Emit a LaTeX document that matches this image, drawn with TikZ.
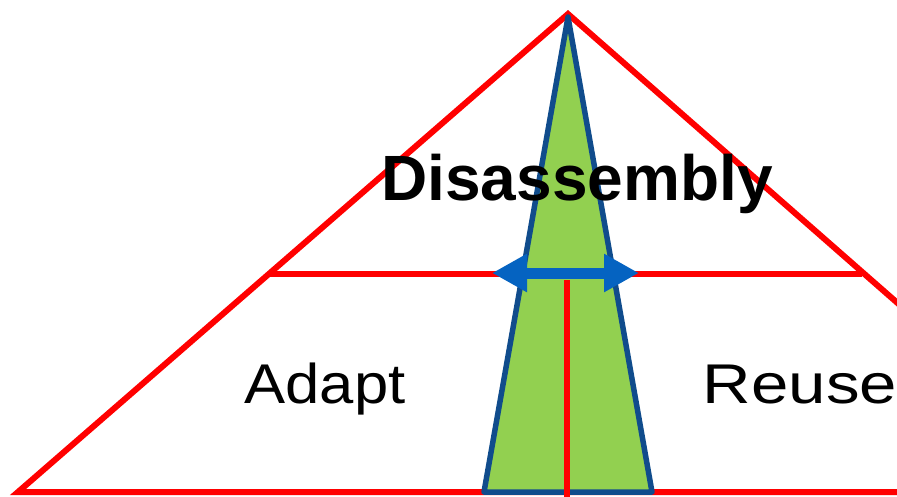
\documentclass[tikz,border=0pt]{standalone}
\usepackage{fontspec}
\setmainfont{Liberation Sans}
\usetikzlibrary{arrows.meta}
\definecolor{redline}{RGB}{255,0,0}
\definecolor{greenfill}{RGB}{146,208,80}
\definecolor{blueedge}{RGB}{16,76,140}
\definecolor{bluearrow}{RGB}{5,99,193}
\tikzset{
  redl/.style={draw=redline,line width=6pt,line join=miter},
  spire/.style={fill=greenfill,draw=blueedge,line width=5.5pt,line join=round},
  dblarrow/.style={draw=bluearrow,line width=11pt,{Triangle[length=35pt,width=36pt]}-{Triangle[length=35pt,width=36pt]}},
  lbl/.style={anchor=base,inner sep=0pt,text=black}
}
\begin{document}
\begin{tikzpicture}[x=1pt,y=-1pt]
\useasboundingbox (0,0) rectangle (897,497);
\clip (0,0) rectangle (897,497);
\fill[white] (0,0) rectangle (897,497);
% red pyramid
\coordinate (apex) at (568,14);
\coordinate (bl) at (18,492);
\coordinate (br) at (1113,492);
\coordinate (ml) at (269,274);
\coordinate (mr) at (862,274);
\draw[redl] (br) -- (bl) -- (apex) -- (br);
\draw[redl] (ml) -- (mr);
% green spire
\coordinate (gapex) at (568,17);
\coordinate (gbl) at (484,492);
\coordinate (gbr) at (652,492);
\draw[spire] (gapex) -- (gbl) -- (gbr) -- cycle;
% red vertical line
\coordinate (vt) at (567,280);
\coordinate (vb) at (567,500);
\draw[redl] (vt) -- (vb);
% blue double arrow
\coordinate (al) at (492,273);
\coordinate (ar) at (639,273);
\draw[dblarrow] (al) -- (ar);
% labels
\node[lbl,font=\bfseries\fontsize{64}{70}\selectfont] (dis) at (577,201) {Disassembly};
\node[lbl,font=\fontsize{56}{62}\selectfont] (adapt) at (325,403) {\scalebox{1.1}[1]{Adapt}};
\node[lbl,font=\fontsize{56}{62}\selectfont] (reuse) at (800,403) {\scalebox{1.2}[1]{Reuse}};
\end{tikzpicture}
\end{document}
